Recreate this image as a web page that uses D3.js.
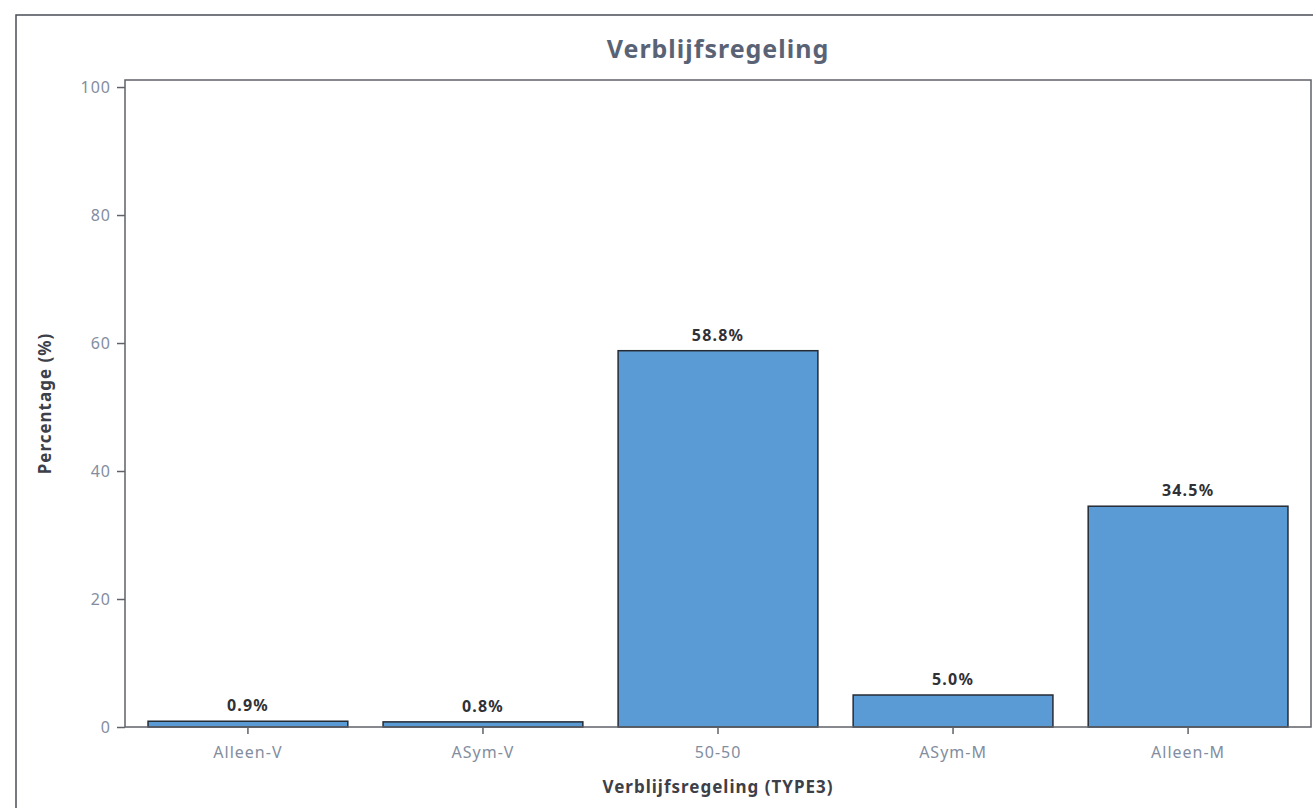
<!DOCTYPE html>
<html>
<head>
<meta charset="utf-8">
<script src="https://cdn.jsdelivr.net/npm/d3@7"></script>
<style>
  body { margin: 0; background: #fff; }
  svg { display: block; }
  text { font-family: "Noto Sans", "Open Sans", sans-serif; }
</style>
</head>
<body>
<div id="chart"></div>
<script>
// data
var categories = ["Alleen-V", "ASym-V", "50-50", "ASym-M", "Alleen-M"];
var percentages = [0.9, 0.8, 58.8, 5.0, 34.5];
var yTicks = [0, 20, 40, 60, 80, 100];

var width = 1313;
var height = 808;
var mLeft = 125, mRight = 1311, mTop = 80, mBottom = 727;

var svg = d3.select("#chart").append("svg").attr("width", width).attr("height", height);

// outer frame (runs off the right and bottom edge)
svg.append("rect")
    .attr("x", 16).attr("y", 15)
    .attr("width", width + 10).attr("height", height + 10)
    .attr("fill", "none").attr("stroke", "#4a4d55").attr("stroke-width", 1.5);

var x = d3.scaleBand().domain(categories).range([mLeft, mRight])
    .paddingInner(0.15).paddingOuter(0.098);
var y = d3.scaleLinear().domain([0, 101.1]).range([mBottom, mTop]);

// bars
svg.selectAll("rect.bar")
    .data(percentages)
    .enter()
    .append("rect")
    .attr("class", "bar")
    .attr("x", function(d, i) { return x(categories[i]); })
    .attr("y", function(d) { return y(d); })
    .attr("width", x.bandwidth())
    .attr("height", function(d) { return y(0) - y(d); })
    .attr("fill", "#5b9bd5")
    .attr("stroke", "#262b33")
    .attr("stroke-width", 1.5);

// value labels
svg.selectAll("text.val")
    .data(percentages)
    .enter()
    .append("text")
    .attr("class", "val")
    .attr("x", function(d, i) { return x(categories[i]) + x.bandwidth() / 2; })
    .attr("y", function(d) { return y(d) - 10; })
    .attr("text-anchor", "middle")
    .attr("font-size", 16)
    .attr("font-weight", "bold")
    .attr("letter-spacing", 1.2)
    .attr("fill", "#2f3136")
    .text(function(d) { return d.toFixed(1) + "%"; });

// plot frame
svg.append("rect")
    .attr("x", mLeft).attr("y", mTop)
    .attr("width", mRight - mLeft).attr("height", mBottom - mTop)
    .attr("fill", "none").attr("stroke", "#5f6269").attr("stroke-width", 1.5);

// axes
var yAxis = svg.append("g")
    .attr("transform", "translate(" + mLeft + ",0)")
    .call(d3.axisLeft(y).tickValues(yTicks).tickSize(8).tickPadding(6));
var xAxis = svg.append("g")
    .attr("transform", "translate(0," + mBottom + ")")
    .call(d3.axisBottom(x).tickSize(7).tickPadding(13));

[xAxis, yAxis].forEach(function(g) {
    g.select(".domain").remove();
    g.selectAll(".tick line").attr("stroke", "#5f6269").attr("stroke-width", 1.5);
    g.selectAll(".tick text")
        .attr("fill", "#838da0")
        .attr("font-size", 16)
        .attr("letter-spacing", 1)
        .style("font-family", "'Noto Sans', 'Open Sans', sans-serif");
});

// title
svg.append("text")
    .attr("x", (mLeft + mRight) / 2).attr("y", 58)
    .attr("text-anchor", "middle")
    .attr("font-size", 25)
    .attr("font-weight", "bold")
    .attr("letter-spacing", 1)
    .attr("fill", "#5a6375")
    .text("Verblijfsregeling");

// axis titles
svg.append("text")
    .attr("x", (mLeft + mRight) / 2).attr("y", 793)
    .attr("text-anchor", "middle")
    .attr("font-size", 17)
    .attr("font-weight", "bold")
    .attr("letter-spacing", 1)
    .attr("fill", "#3d4048")
    .text("Verblijfsregeling (TYPE3)");

svg.append("text")
    .attr("transform", "translate(51," + (mTop + mBottom) / 2 + ") rotate(-90)")
    .attr("text-anchor", "middle")
    .attr("font-size", 17)
    .attr("font-weight", "bold")
    .attr("letter-spacing", 1)
    .attr("fill", "#3d4048")
    .text("Percentage (%)");
</script>
</body>
</html>
